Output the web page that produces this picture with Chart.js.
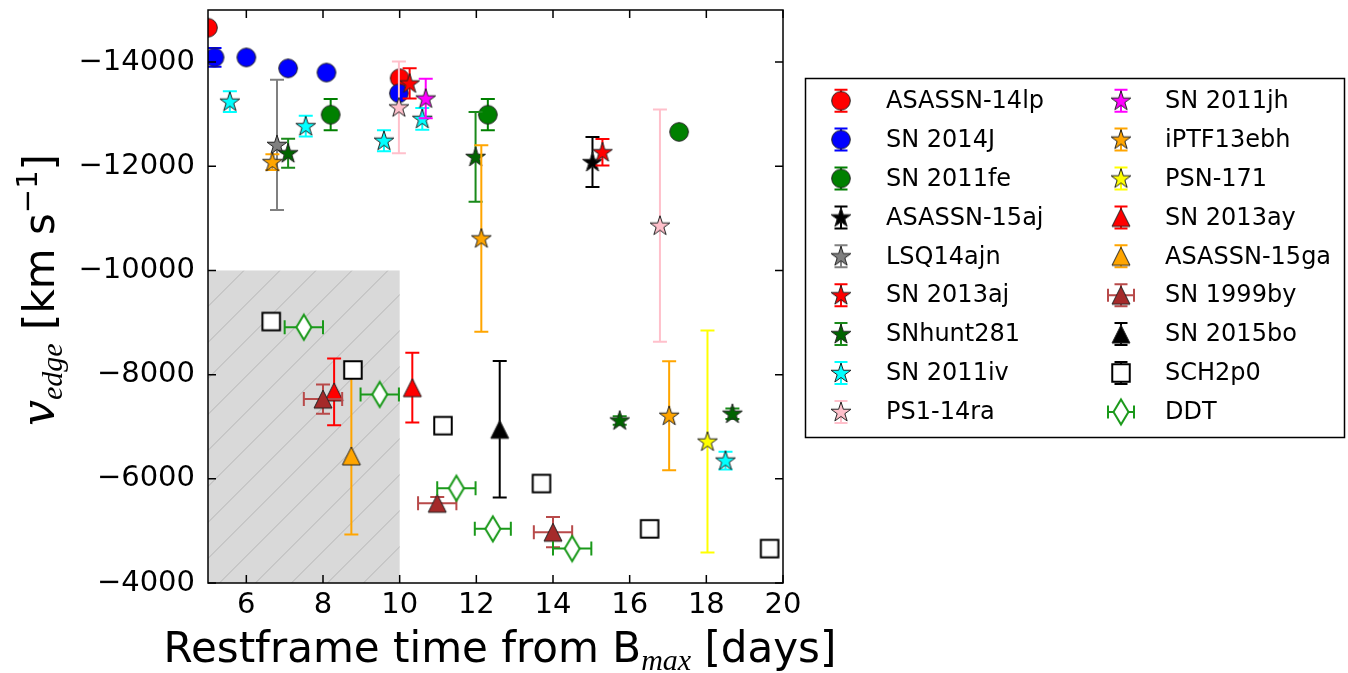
<!DOCTYPE html>
<html>
<head>
<meta charset="utf-8">
<script src="https://cdn.jsdelivr.net/npm/chart.js@4.4.1/dist/chart.umd.min.js"></script>
<style>
  html, body { margin: 0; padding: 0; background: #fff; }
  #wrap { width: 1348px; height: 673px; }
</style>
</head>
<body>
<div id="wrap"><canvas id="chart" width="1348" height="673"></canvas></div>
<script>
// axis ticks
const tickX = [6, 8, 10, 12, 14, 16, 18, 20];
const tickY = [-14000, -12000, -10000, -8000, -6000, -4000];

// restframe time (days), edge velocity (km/s), velocity error, time error
const t14lp = [5.0, 10.0];
const v14lp = [-14660, -13690];
const ev14lp = [0, 0];

const t14J = [5.17, 6.0, 7.09, 8.09, 9.98];
const v14J = [-14090, -14090, -13880, -13800, -13400];
const ev14J = [180, 0, 0, 0, 0];

const t11fe = [8.2, 12.3, 17.29];
const v11fe = [-12990, -12990, -12660];
const ev11fe = [300, 300, 0];

const t15aj = [15.03];
const v15aj = [-12080];
const ev15aj = [480];

const tLsq = [6.8];
const vLsq = [-12410];
const evLsq = [1250];

const t13aj = [10.26, 15.29];
const v13aj = [-13590, -12270];
const ev13aj = [290, 255];

const tHunt = [7.09, 11.98, 15.74, 18.68];
const vHunt = [-12250, -12180, -7120, -7250];
const evHunt = [280, 860, 80, 100];

const t11iv = [5.57, 7.55, 9.59, 10.59, 18.5];
const v11iv = [-13240, -12770, -12490, -12910, -6350];
const ev11iv = [200, 200, 200, 210, 170];

const tPs1 = [9.98, 16.79];
const vPs1 = [-13130, -10860];
const evPs1 = [880, 2230];

const t11jh = [10.68];
const v11jh = [-13300];
const ev11jh = [380];

const tPtf = [6.68, 12.13, 17.03];
const vPtf = [-12080, -10615, -7210];
const evPtf = [150, 1790, 1045];

const tPsn = [18.03];
const vPsn = [-6715];
const evPsn = [2130];

const t13ay = [8.29, 10.33];
const v13ay = [-7670, -7750];
const ev13ay = [640, 670];

const t15ga = [8.74];
const v15ga = [-6440];
const ev15ga = [1510];

const t99by = [8.0, 10.98, 14.0];
const v99by = [-7530, -5530, -4975];
const ev99by = [280, 120, 290];
const et99by = [0.5, 0.5, 0.5];

const t15bo = [12.61];
const v15bo = [-6950];
const ev15bo = [1310];

const tSch = [6.65, 8.78, 11.13, 13.7, 16.52, 19.65];
const vSch = [-9020, -8090, -7020, -5910, -5040, -4660];

const tDdt = [7.5, 9.48, 11.48, 12.43, 14.5];
const vDdt = [-8910, -7620, -5820, -5040, -4660];
const etDdt = [0.5, 0.5, 0.5, 0.47, 0.5];

// shaded excluded region
const shadeT = [5, 10];
const shadeV = [-10000, -4000];

// marker images
function makeMarker(shape, fill, edge, lw) {
  const c = document.createElement("canvas");
  c.width = 30;
  c.height = 30;
  const g = c.getContext("2d");
  const m = 15;
  g.beginPath();
  if (shape === "circle") {
    g.arc(m, m, 9.3, 0, Math.PI * 2);
  } else if (shape === "star") {
    const R = 10.5, r = R * 0.381966;
    for (let k = 0; k < 10; k++) {
      const a = -Math.PI / 2 + (k * Math.PI) / 5;
      const rr = k % 2 === 0 ? R : r;
      g.lineTo(m + rr * Math.cos(a), m + 0.5 + rr * Math.sin(a));
    }
    g.closePath();
  } else if (shape === "tri") {
    g.moveTo(m, m - 9);
    g.lineTo(m + 9, m + 9);
    g.lineTo(m - 9, m + 9);
    g.closePath();
  } else if (shape === "square") {
    g.rect(m - 8.75, m - 8.75, 17.5, 17.5);
  } else if (shape === "diamond") {
    g.moveTo(m, m - 12.5);
    g.lineTo(m + 7.5, m);
    g.lineTo(m, m + 12.5);
    g.lineTo(m - 7.5, m);
    g.closePath();
  }
  g.fillStyle = fill;
  g.fill();
  g.lineWidth = lw;
  g.strokeStyle = edge;
  g.stroke();
  return c;
}

const series = [
  { name: "ASASSN-14lp", t: t14lp, v: v14lp, ev: ev14lp, shape: "circle", color: "#ff0000" },
  { name: "SN 2014J", t: t14J, v: v14J, ev: ev14J, shape: "circle", color: "#0000ff" },
  { name: "SN 2011fe", t: t11fe, v: v11fe, ev: ev11fe, shape: "circle", color: "#008000" },
  { name: "ASASSN-15aj", t: t15aj, v: v15aj, ev: ev15aj, shape: "star", color: "#000000" },
  { name: "LSQ14ajn", t: tLsq, v: vLsq, ev: evLsq, shape: "star", color: "#808080" },
  { name: "SN 2013aj", t: t13aj, v: v13aj, ev: ev13aj, shape: "star", color: "#ff0000" },
  { name: "SNhunt281", t: tHunt, v: vHunt, ev: evHunt, shape: "star", color: "#006400", ecolor: "#1a8a1a" },
  { name: "SN 2011iv", t: t11iv, v: v11iv, ev: ev11iv, shape: "star", color: "#00ffff" },
  { name: "PS1-14ra", t: tPs1, v: vPs1, ev: evPs1, shape: "star", color: "#ffc0cb" },
  { name: "SN 2011jh", t: t11jh, v: v11jh, ev: ev11jh, shape: "star", color: "#ff00ff" },
  { name: "iPTF13ebh", t: tPtf, v: vPtf, ev: evPtf, shape: "star", color: "#ffa500" },
  { name: "PSN-171", t: tPsn, v: vPsn, ev: evPsn, shape: "star", color: "#ffff00" },
  { name: "SN 2013ay", t: t13ay, v: v13ay, ev: ev13ay, shape: "tri", color: "#ff0000" },
  { name: "ASASSN-15ga", t: t15ga, v: v15ga, ev: ev15ga, shape: "tri", color: "#ffa500" },
  { name: "SN 1999by", t: t99by, v: v99by, ev: ev99by, et: et99by, shape: "tri", color: "#a52a2a", ecolor: "#b84a4a" },
  { name: "SN 2015bo", t: t15bo, v: v15bo, ev: ev15bo, shape: "tri", color: "#000000" },
  { name: "SCH2p0", t: tSch, v: vSch, shape: "square", color: "#ffffff", edge: "#000000", lw: 2, ecolor: "#000000" },
  { name: "DDT", t: tDdt, v: vDdt, et: etDdt, shape: "diamond", color: "#ffffff", edge: "#1a991a", lw: 2, ecolor: "#1a991a" },
];

series.forEach((s) => {
  s.img = makeMarker(s.shape, s.color, s.edge || "#222222", s.lw || 1);
  s.ecolor = s.ecolor || s.color;
});

const datasets = series.map((s, i) => ({
  label: s.name,
  data: s.t.map((t, j) => ({ x: t, y: s.v[j] })),
  pointStyle: s.img,
  pointRadius: 9,
  order: -i,
  clip: 0,
}));

function drawBars(g, xs, ys, s, i) {
  const cap = 7;
  g.strokeStyle = s.ecolor;
  g.lineWidth = 2;
  const px = xs.getPixelForValue(s.t[i]);
  const py = ys.getPixelForValue(s.v[i]);
  if (s.ev && s.ev[i] > 0) {
    const y1 = ys.getPixelForValue(s.v[i] - s.ev[i]);
    const y2 = ys.getPixelForValue(s.v[i] + s.ev[i]);
    g.beginPath();
    g.moveTo(px, y1); g.lineTo(px, y2);
    g.moveTo(px - cap, y1); g.lineTo(px + cap, y1);
    g.moveTo(px - cap, y2); g.lineTo(px + cap, y2);
    g.stroke();
  }
  if (s.et && s.et[i] > 0) {
    const x1 = xs.getPixelForValue(s.t[i] - s.et[i]);
    const x2 = xs.getPixelForValue(s.t[i] + s.et[i]);
    g.beginPath();
    g.moveTo(x1, py); g.lineTo(x2, py);
    g.moveTo(x1, py - cap); g.lineTo(x1, py + cap);
    g.moveTo(x2, py - cap); g.lineTo(x2, py + cap);
    g.stroke();
  }
}

const errorBarPlugin = {
  id: "errorBars",
  beforeDatasetDraw(chart, args) {
    const s = series[args.index];
    const { ctx, chartArea: a } = chart;
    ctx.save();
    ctx.beginPath();
    ctx.rect(a.left, a.top, a.right - a.left, a.bottom - a.top);
    ctx.clip();
    s.t.forEach((t, i) => drawBars(ctx, chart.scales.x, chart.scales.y, s, i));
    ctx.restore();
  },
};

const shadePlugin = {
  id: "shade",
  beforeDatasetsDraw(chart) {
    const { ctx } = chart;
    const xs = chart.scales.x, ys = chart.scales.y;
    const x1 = xs.getPixelForValue(shadeT[0]), x2 = xs.getPixelForValue(shadeT[1]);
    const y1 = ys.getPixelForValue(shadeV[0]), y2 = ys.getPixelForValue(shadeV[1]);
    ctx.save();
    ctx.fillStyle = "#d9d9d9";
    ctx.fillRect(x1, y1, x2 - x1, y2 - y1);
    ctx.beginPath();
    ctx.rect(x1, y1, x2 - x1, y2 - y1);
    ctx.clip();
    ctx.strokeStyle = "#b4b4b4";
    ctx.lineWidth = 1;
    ctx.beginPath();
    const h = y2 - y1;
    for (let x = x1 - h; x < x2 + h; x += 36) {
      ctx.moveTo(x, y2);
      ctx.lineTo(x + h, y1);
    }
    ctx.stroke();
    ctx.restore();
  },
};

// frame, inward ticks, axis titles and legend
const decorPlugin = {
  id: "decor",
  afterDraw(chart) {
    const { ctx, chartArea: a } = chart;
    const xs = chart.scales.x, ys = chart.scales.y;
    ctx.save();
    ctx.strokeStyle = "#000";
    ctx.lineWidth = 1.5;
    ctx.strokeRect(a.left, a.top, a.right - a.left, a.bottom - a.top);
    ctx.beginPath();
    const tl = 8;
    tickX.forEach((v) => {
      const p = xs.getPixelForValue(v);
      ctx.moveTo(p, a.bottom); ctx.lineTo(p, a.bottom - tl);
      ctx.moveTo(p, a.top); ctx.lineTo(p, a.top + tl);
    });
    tickY.forEach((v) => {
      const p = ys.getPixelForValue(v);
      ctx.moveTo(a.left, p); ctx.lineTo(a.left + tl, p);
      ctx.moveTo(a.right, p); ctx.lineTo(a.right - tl, p);
    });
    ctx.stroke();

    // x title
    const F = 42;
    const xParts = [
      { txt: "Restframe time from B", font: `${F}px "DejaVu Sans"`, dy: 0 },
      { txt: "max", font: `italic ${Math.round(F * 0.72)}px "Liberation Serif"`, dy: F * 0.2 },
      { txt: " [days]", font: `${F}px "DejaVu Sans"`, dy: 0 },
    ];
    drawParts(ctx, xParts, 500, 662);

    // y title
    ctx.save();
    ctx.translate(54, 290);
    ctx.rotate(-Math.PI / 2);
    const yParts = [
      { txt: "v", font: `italic ${F + 4}px "DejaVu Serif"`, dy: 0 },
      { txt: "edge", font: `italic ${Math.round(F * 0.72)}px "Liberation Serif"`, dy: F * 0.2 },
      { txt: " [km s", font: `${F}px "DejaVu Sans"`, dy: 0 },
      { txt: "\u22121", font: `${Math.round(F * 0.7)}px "DejaVu Sans"`, dy: -F * 0.4 },
      { txt: "]", font: `${F}px "DejaVu Sans"`, dy: 0 },
    ];
    drawParts(ctx, yParts, 0, 0);
    ctx.restore();

    // legend
    ctx.lineWidth = 1.5;
    ctx.strokeStyle = "#000";
    ctx.strokeRect(805.5, 78.5, 539, 359);
    ctx.font = '24px "DejaVu Sans"';
    ctx.textBaseline = "middle";
    ctx.textAlign = "left";
    const markX = [841, 1121], textX = [886, 1165];
    series.forEach((s, i) => {
      const col = i < 9 ? 0 : 1;
      const row = i % 9;
      const y = 100.7 + row * 38.9;
      const x = markX[col];
      ctx.strokeStyle = s.ecolor;
      ctx.lineWidth = 2;
      ctx.beginPath();
      if (s.ev || s.shape === "square") {
        ctx.moveTo(x, y - 11); ctx.lineTo(x, y + 11);
        ctx.moveTo(x - 6.5, y - 11); ctx.lineTo(x + 6.5, y - 11);
        ctx.moveTo(x - 6.5, y + 11); ctx.lineTo(x + 6.5, y + 11);
      }
      if (s.et) {
        ctx.moveTo(x - 13, y); ctx.lineTo(x + 13, y);
        ctx.moveTo(x - 13, y - 6.5); ctx.lineTo(x - 13, y + 6.5);
        ctx.moveTo(x + 13, y - 6.5); ctx.lineTo(x + 13, y + 6.5);
      }
      ctx.stroke();
      ctx.drawImage(s.img, x - s.img.width / 2, y - s.img.height / 2);
      ctx.fillStyle = "#000";
      ctx.fillText(s.name, textX[col], y + 1);
    });
    ctx.restore();
  },
};

function drawParts(g, parts, cx, baseY) {
  g.save();
  g.fillStyle = "#000";
  g.textBaseline = "alphabetic";
  g.textAlign = "left";
  let total = 0;
  parts.forEach((p) => {
    g.font = p.font;
    p.w = g.measureText(p.txt).width;
    total += p.w;
  });
  let x = cx - total / 2;
  parts.forEach((p) => {
    g.font = p.font;
    g.fillText(p.txt, x, baseY + p.dy);
    x += p.w;
  });
  g.restore();
}

new Chart(document.getElementById("chart"), {
  type: "scatter",
  data: { datasets: datasets },
  options: {
    responsive: false,
    animation: false,
    events: [],
    layout: { padding: { left: 0, right: 565, top: 8, bottom: 0 } },
    plugins: {
      legend: { display: false },
      tooltip: { enabled: false },
    },
    scales: {
      x: {
        type: "linear",
        min: 5,
        max: 20,
        grid: { display: false, drawTicks: false },
        border: { display: false },
        afterBuildTicks: (scale) => { scale.ticks = tickX.map((v) => ({ value: v })); },
        afterFit: (scale) => {
          scale.height = 90;
          scale.paddingLeft = 0;
          scale.paddingRight = 0;
        },
        ticks: {
          color: "#000",
          padding: 5,
          maxRotation: 0,
          font: { family: "DejaVu Sans", size: 29 },
        },
      },
      y: {
        type: "linear",
        reverse: true,
        min: -15000,
        max: -4000,
        grid: { display: false, drawTicks: false },
        border: { display: false },
        afterBuildTicks: (scale) => { scale.ticks = tickY.map((v) => ({ value: v })); },
        afterFit: (scale) => {
          scale.width = 208;
          scale.paddingTop = 0;
          scale.paddingBottom = 0;
        },
        ticks: {
          color: "#000",
          padding: 13,
          font: { family: "DejaVu Sans", size: 29 },
          callback: (v) => "\u2212" + Math.abs(v),
        },
      },
    },
  },
  plugins: [shadePlugin, errorBarPlugin, decorPlugin],
});
</script>
</body>
</html>
